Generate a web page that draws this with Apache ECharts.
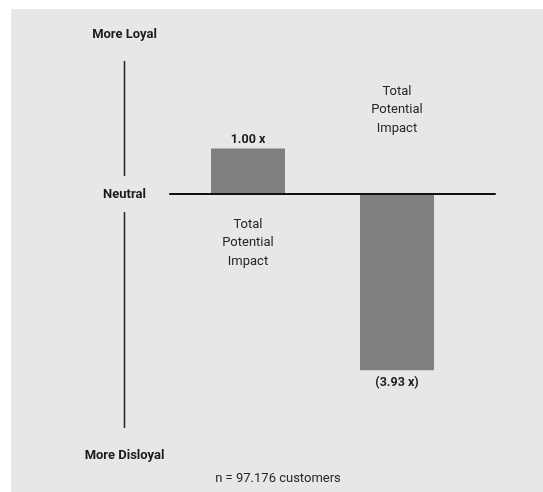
<!DOCTYPE html>
<html>
<head>
<meta charset="utf-8">
<script src="https://cdn.jsdelivr.net/npm/echarts@6/dist/echarts.min.js"></script>
<style>
  html, body { margin: 0; padding: 0; background: #ffffff; }
  #panel { position: absolute; left: 11px; top: 9px; width: 532px; height: 483px; background: #e7e7e7; }
  #chart { position: absolute; left: 0; top: 0; width: 543px; height: 492px; }
</style>
</head>
<body>
<div id="panel"></div>
<div id="chart"></div>
<script>
// Loyalty impact relative to the positive side (1.00 x)
const categories = ['Loyal', 'Disloyal'];
const impactValues = [1.00, -3.93];
const scaleLabels = ['More Loyal', 'Neutral', 'More Disloyal'];
const impactCaption = ['Total', 'Potential', 'Impact'];
const sampleNote = 'n = 97.176 customers';

const FONT = 'Roboto';
const INK = '#1c1c1c';
const BAR = '#808080';

function formatMultiple(v) {
  const s = Math.abs(v).toFixed(2) + ' x';
  return v < 0 ? '(' + s + ')' : s;
}

const chart = echarts.init(document.getElementById('chart'), null, { renderer: 'canvas' });

const gridTop = 148.5, gridBottom = 118.5;

chart.setOption({
  backgroundColor: 'transparent',
  animation: false,
  grid: [
    { left: 173.5, right: 71.5, top: gridTop, bottom: gridBottom },
    { left: 170, right: 48, top: gridTop, bottom: gridBottom }
  ],
  xAxis: [
    {
      gridIndex: 0, type: 'category', data: categories,
      axisLine: { show: false }, axisTick: { show: false }, axisLabel: { show: false }
    },
    {
      gridIndex: 1, type: 'value', min: 0, max: 1, z: 5,
      axisLine: { show: true, onZero: true, lineStyle: { color: '#111111', width: 2 } },
      axisTick: { show: false }, axisLabel: { show: false }, splitLine: { show: false }
    }
  ],
  yAxis: [
    { gridIndex: 0, type: 'value', min: -4, max: 1, show: false, splitLine: { show: false } },
    { gridIndex: 1, type: 'value', min: -4, max: 1, show: false, splitLine: { show: false } }
  ],
  series: [{
    type: 'bar',
    xAxisIndex: 0, yAxisIndex: 0,
    barWidth: 74,
    itemStyle: { color: BAR },
    data: impactValues.map(v => ({
      value: v,
      label: { position: v >= 0 ? 'top' : 'bottom', distance: v >= 0 ? 2 : 6 }
    })),
    label: {
      show: true,
      fontFamily: FONT, fontWeight: 'bold', fontSize: 12.5, color: INK,
      formatter: p => formatMultiple(p.value)
    }
  }],
  title: {
    text: sampleNote,
    left: 273, top: 467, textAlign: 'center',
    textStyle: { fontFamily: FONT, fontWeight: 'normal', fontSize: 13, color: '#262626' }
  }
});

// Annotation layer: loyalty scale on the left and captions next to each bar
const zero0 = chart.convertToPixel({ xAxisIndex: 0, yAxisIndex: 0 }, [0, 0]);
const zero1 = chart.convertToPixel({ xAxisIndex: 0, yAxisIndex: 0 }, [1, 0]);
const scaleX = 124.5;
const baseY = zero0[1];

function captionText(x, yFirst) {
  return {
    type: 'text', x: x, y: yFirst,
    style: {
      text: impactCaption.join('\n'), align: 'center', verticalAlign: 'middle',
      lineHeight: 18.5, fontFamily: FONT, fontSize: 13, fill: '#262626'
    }
  };
}

function scaleText(text, y) {
  return {
    type: 'text', x: scaleX, y: y,
    style: {
      text: text, align: 'center', verticalAlign: 'middle',
      fontFamily: FONT, fontWeight: 'bold', fontSize: 13, fill: INK
    }
  };
}

chart.setOption({
  graphic: [
    scaleText(scaleLabels[0], 35),
    scaleText(scaleLabels[1], baseY + 1),
    scaleText(scaleLabels[2], 456),
    { type: 'line', shape: { x1: scaleX, y1: 61, x2: scaleX, y2: 176 }, style: { stroke: '#222', lineWidth: 1.5 } },
    { type: 'line', shape: { x1: scaleX, y1: 212, x2: scaleX, y2: 428 }, style: { stroke: '#222', lineWidth: 1.5 } },
    captionText(zero0[0], baseY + 49.5),
    captionText(zero1[0], baseY - 83.5)
  ]
});
</script>
</body>
</html>
